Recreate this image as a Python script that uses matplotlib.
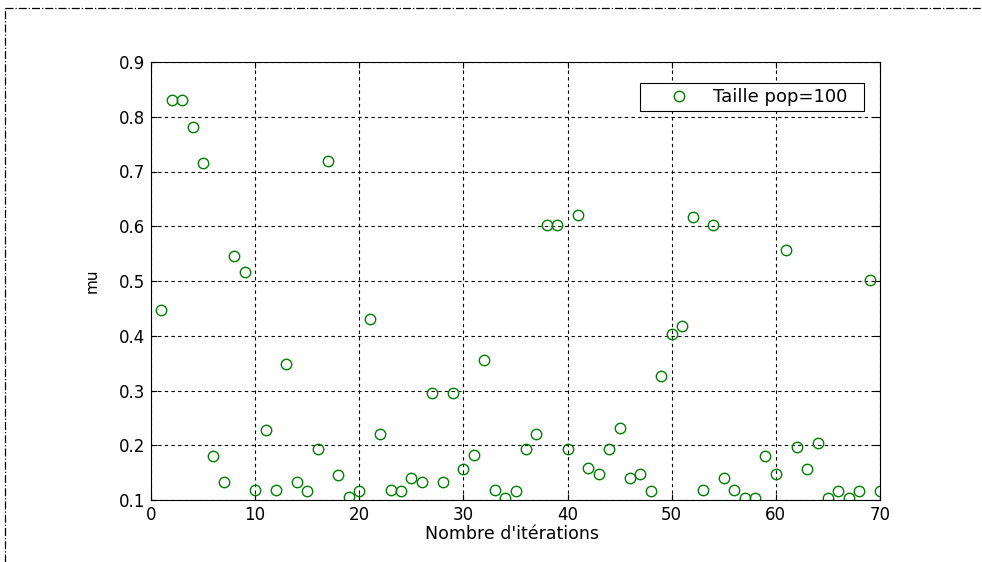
import matplotlib
matplotlib.use("Agg")
import matplotlib.pyplot as plt
from matplotlib.lines import Line2D

# Data
iterations = list(range(1, 71))
mu = [
    0.447, 0.830, 0.830, 0.782, 0.716, 0.180, 0.133, 0.546, 0.516, 0.118,
    0.227, 0.118, 0.348, 0.133, 0.116, 0.193, 0.720, 0.145, 0.105, 0.116,
    0.430, 0.220, 0.118, 0.117, 0.141, 0.133, 0.295, 0.133, 0.295, 0.157,
    0.182, 0.355, 0.118, 0.103, 0.116, 0.193, 0.220, 0.602, 0.602, 0.193,
    0.620, 0.158, 0.147, 0.193, 0.232, 0.140, 0.147, 0.116, 0.327, 0.403,
    0.417, 0.617, 0.118, 0.602, 0.140, 0.118, 0.103, 0.103, 0.180, 0.147,
    0.556, 0.197, 0.157, 0.204, 0.103, 0.116, 0.103, 0.116, 0.502, 0.116,
]
x_ticks = [0, 10, 20, 30, 40, 50, 60, 70]
y_ticks = [0.1, 0.2, 0.3, 0.4, 0.5, 0.6, 0.7, 0.8, 0.9]
legend_label = "Taille pop=100"

plt.rcParams['font.family'] = ['DejaVu Sans']

fig = plt.figure(figsize=(9.82, 5.62), dpi=100)
ax = fig.add_axes([151 / 982, 1 - 500 / 562, 729 / 982, 438 / 562])

ax.plot(iterations, mu, linestyle='none', marker='o', markersize=7.5,
        markerfacecolor='none', markeredgecolor=(0, 0.5, 0), markeredgewidth=1,
        label=legend_label + "  ")

ax.set_xlim(0, 70)
ax.set_ylim(0.1, 0.9)
ax.set_xticks(x_ticks)
ax.set_yticks(y_ticks)
ax.set_xticklabels([str(t) for t in x_ticks])
ax.set_yticklabels([f"{t:.1f}" for t in y_ticks])
ax.tick_params(direction='in', top=True, right=True, labelsize=12, length=4,
               width=0.8, pad=4.5)
for s in ax.spines.values():
    s.set_linewidth(0.8)

ax.grid(True, color='black', linestyle=(0, (3, 3)), linewidth=0.8)
ax.set_axisbelow(True)

ax.set_xlabel("Nombre d'itérations", fontsize=12.5)
ax.xaxis.set_label_coords(0.495, -0.056)
ax.set_ylabel("mu", fontsize=11)
ax.yaxis.set_label_coords(-0.07, 0.5)

leg = ax.legend(loc='upper right', bbox_to_anchor=(0.978, 0.952), borderaxespad=0,
                fontsize=13, fancybox=False, framealpha=1, edgecolor='black',
                borderpad=0.28, handletextpad=0.05, handlelength=3.7)
leg.get_frame().set_linewidth(0.8)

# dash-dot outer border (top and left)
fig.add_artist(Line2D([5 / 982, 1], [1 - 8 / 562, 1 - 8 / 562], transform=fig.transFigure,
                      color='black', linestyle='-.', linewidth=0.9))
fig.add_artist(Line2D([5 / 982, 5 / 982], [0, 1 - 8 / 562], transform=fig.transFigure,
                      color='black', linestyle='-.', linewidth=0.9))

fig.savefig("out.png", dpi=100)
